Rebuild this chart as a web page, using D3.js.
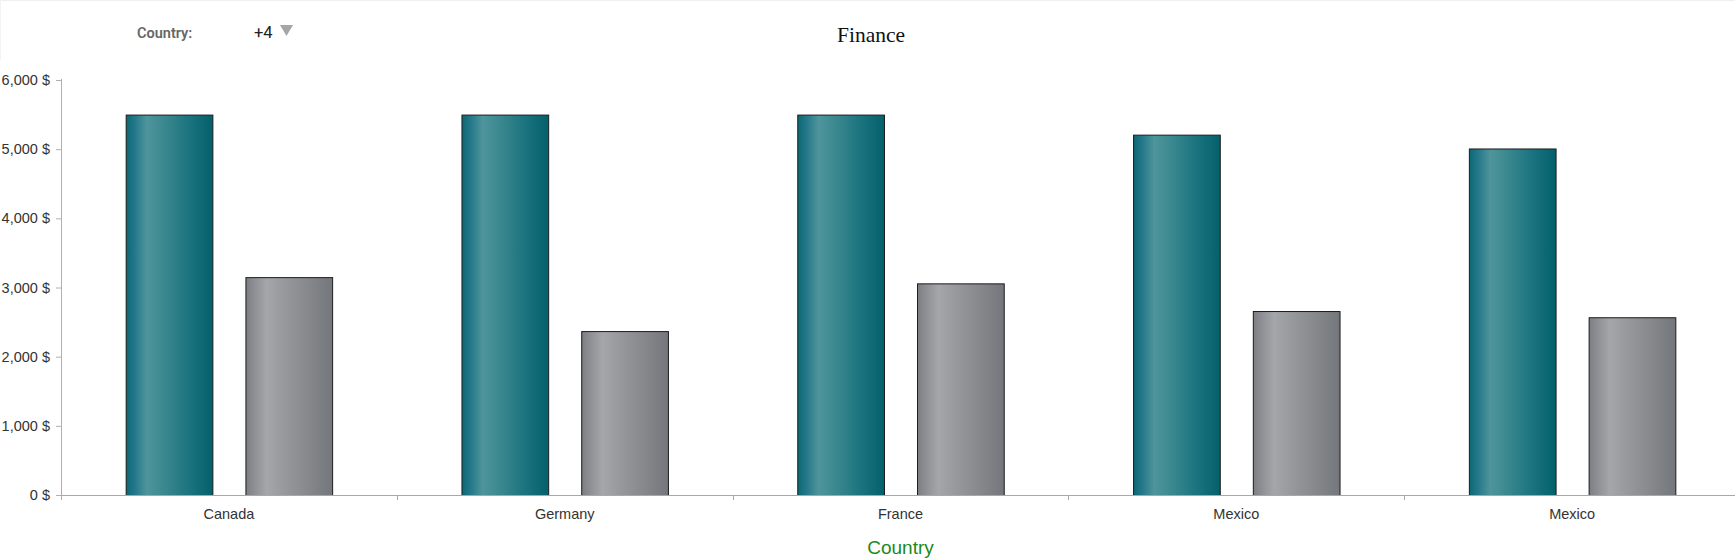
<!DOCTYPE html>
<html>
<head>
<meta charset="utf-8">
<script src="https://cdn.jsdelivr.net/npm/d3@7"></script>
<style>
  html, body { margin: 0; padding: 0; background: #fff; }
  svg { display: block; }
</style>
</head>
<body>
<svg id="chart" width="1735" height="560"></svg>
<script>
// ---- data ----
const categories = ["Canada", "Germany", "France", "Mexico", "Mexico"];
const seriesNames = ["Revenue", "Expenses"];
const revenue = [5500, 5500, 5500, 5210, 5010];
const expenses = [3150, 2370, 3060, 2660, 2570];
const yTicks = [0, 1000, 2000, 3000, 4000, 5000, 6000];
const chartTitle = "Finance";
const xAxisTitle = "Country";
const filterLabel = "Country:";
const filterValue = "+4";

// ---- layout ----
const W = 1735, H = 560;
const margin = { left: 61, right: -5, top: 80, bottom: 65 };
const svg = d3.select("#chart");

const idx = categories.map((d, i) => i);
const x0 = d3.scaleBand().domain(idx).range([margin.left, W - margin.right]).paddingInner(0).paddingOuter(0);
const x1 = d3.scaleBand().domain(seriesNames).range([0, x0.bandwidth()]).paddingInner(0.276).paddingOuter(0.54);
const y = d3.scaleLinear().domain([0, 6000]).range([H - margin.bottom, margin.top]);

// ---- gradients ----
const defs = svg.append("defs");
function grad(id, stops) {
  const g = defs.append("linearGradient").attr("id", id).attr("x1", "0%").attr("x2", "100%").attr("y1", "0%").attr("y2", "0%");
  stops.forEach(s => g.append("stop").attr("offset", s[0]).attr("stop-color", s[1]));
}
grad("gTeal", [["0%", "#0b6874"], ["10%", "#24788a"], ["24%", "#4f959b"], ["45%", "#3a878f"], ["70%", "#1d7580"], ["100%", "#03606c"]]);
grad("gGray", [["0%", "#7c7e83"], ["10%", "#8f9095"], ["24%", "#a5a6aa"], ["45%", "#97989c"], ["70%", "#87898d"], ["100%", "#73767a"]]);
const fills = { Revenue: "url(#gTeal)", Expenses: "url(#gGray)" };

// faint frame
svg.append("line").attr("x1", 0).attr("x2", W).attr("y1", 0.5).attr("y2", 0.5).attr("stroke", "#efefef");
svg.append("line").attr("x1", 0.5).attr("x2", 0.5).attr("y1", 0).attr("y2", 60).attr("stroke", "#f3f3f3");

// ---- y axis ----
const yAxis = svg.append("g").attr("transform", `translate(${margin.left},0)`)
  .call(d3.axisLeft(y).tickValues(yTicks).tickSize(5).tickPadding(6)
    .tickFormat(d => d3.format(",")(d) + " $"));
yAxis.select(".domain").remove();
yAxis.selectAll(".tick line").attr("stroke", "#b0b0b0");
yAxis.selectAll(".tick text").attr("fill", "#333").style("font-family", "'Liberation Sans', Arial, sans-serif").style("font-size", "14.5px");
svg.append("line").attr("x1", margin.left + 0.5).attr("x2", margin.left + 0.5)
  .attr("y1", y(6000) - 1).attr("y2", y(0) + 5).attr("stroke", "#b0b0b0");

// ---- bars ----
const rows = idx.map(i => ({ i, vals: [{ k: "Revenue", v: revenue[i] }, { k: "Expenses", v: expenses[i] }] }));
const groups = svg.append("g").selectAll("g").data(rows).join("g")
  .attr("transform", d => `translate(${x0(d.i)},0)`);
groups.selectAll("rect").data(d => d.vals).join("rect")
  .attr("x", d => x1(d.k) + 0.5)
  .attr("y", d => y(d.v) + 0.5)
  .attr("width", x1.bandwidth())
  .attr("height", d => y(0) - y(d.v))
  .attr("fill", d => fills[d.k])
  .attr("stroke", "#1c1c1c")
  .attr("stroke-width", 1);

// ---- x axis ----
const xAxisG = svg.append("g").attr("transform", `translate(0,${y(0)})`)
  .call(d3.axisBottom(x0).tickSize(0).tickPadding(14).tickFormat(i => categories[i]));
xAxisG.select(".domain").remove();
xAxisG.selectAll(".tick text").attr("fill", "#333").style("font-family", "'Liberation Sans', Arial, sans-serif").style("font-size", "14.5px");
svg.append("line").attr("x1", margin.left).attr("x2", W).attr("y1", y(0) + 0.5).attr("y2", y(0) + 0.5).attr("stroke", "#a8a8a8");
svg.append("g").selectAll("line").data(idx.slice(1)).join("line")
  .attr("x1", i => Math.round(x0(i)) + 0.5).attr("x2", i => Math.round(x0(i)) + 0.5)
  .attr("y1", y(0)).attr("y2", y(0) + 5).attr("stroke", "#a8a8a8");

// axis title
svg.append("text").attr("x", (margin.left + W - margin.right) / 2).attr("y", 554)
  .attr("text-anchor", "middle").attr("fill", "#1a8a1a")
  .style("font-family", "'Liberation Sans', Arial, sans-serif").style("font-size", "19px")
  .text(xAxisTitle);

// chart title
svg.append("text").attr("x", 871).attr("y", 41.5).attr("text-anchor", "middle").attr("fill", "#111")
  .style("font-family", "'Liberation Serif', 'Times New Roman', serif").style("font-size", "21.5px")
  .text(chartTitle);

// filter control
svg.append("text").attr("x", 137).attr("y", 37.5).attr("fill", "#666")
  .style("font-family", "Roboto, 'Liberation Sans', sans-serif").style("font-size", "14.5px").style("font-weight", "600")
  .text(filterLabel);
svg.append("text").attr("x", 254).attr("y", 37.5).attr("fill", "#222")
  .style("font-family", "Roboto, 'Liberation Sans', sans-serif").style("font-size", "16.5px")
  .text(filterValue);
svg.append("path").attr("d", "M280,25 L293,25 L286.5,36 Z").attr("fill", "#a6a6a6");
</script>
</body>
</html>
